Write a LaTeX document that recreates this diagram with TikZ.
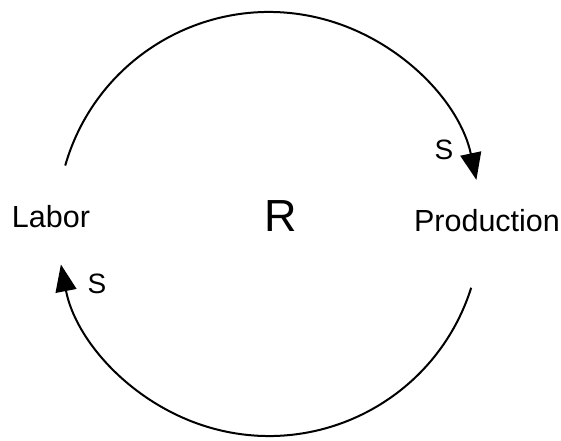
\documentclass[tikz,border=0pt]{standalone}
\usepackage{fontspec}
\setmainfont{Liberation Sans}
\usetikzlibrary{arrows.meta}

\begin{document}
\begin{tikzpicture}[x=1pt,y=1pt,
  lbl/.style={inner sep=0pt, font=\fontsize{30.5}{34}\selectfont},
  sgn/.style={inner sep=0pt, font=\fontsize{28}{32}\selectfont},
  link/.style={line width=2pt, -{Triangle[length=27pt,width=21pt]}}]
\useasboundingbox (0,0) rectangle (561,440);
\coordinate (loop) at (269,216);
\node[lbl] (Labor) at (51,223) {Labor};
\node[lbl] (Production) at (487,219) {Production};
\node[inner sep=0pt, font=\fontsize{45}{50}\selectfont] (R) at (281,224) {R};
\node[sgn] (S1) at (444,290) {S};
\node[sgn] (S2) at (97,156) {S};
\draw[link] (loop) ++(164:212) arc[start angle=164, end angle=12, radius=212];
\draw[link] (loop) ++(-17.5:212) arc[start angle=-17.5, end angle=-169, radius=212];
\end{tikzpicture}
\end{document}
